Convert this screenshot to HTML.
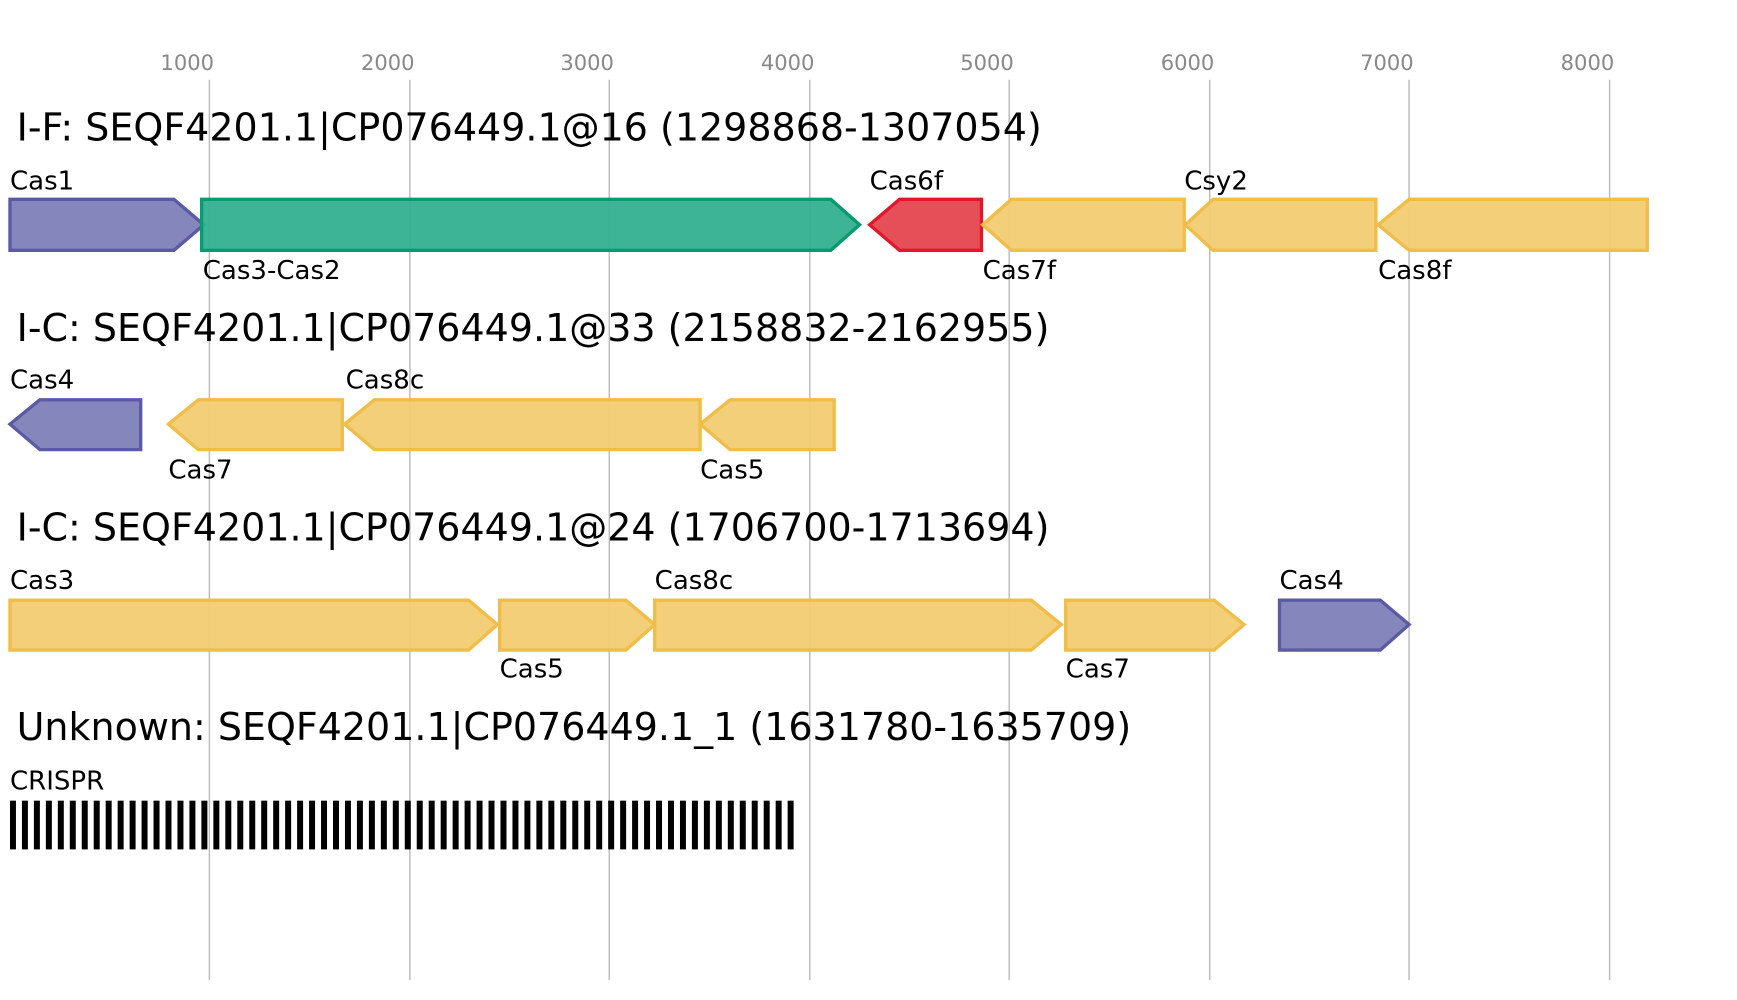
<!DOCTYPE html>
<html><head><meta charset="utf-8"><style>html,body{margin:0;padding:0;background:#fff}svg{display:block}</style></head>
<body>
<svg width="1737" height="1000" viewBox="0 0 1568 903" preserveAspectRatio="none" xmlns="http://www.w3.org/2000/svg" font-family="'DejaVu Sans','Liberation Sans',sans-serif">
<defs>
<pattern id="cr" x="9" y="0" width="10.8" height="10" patternUnits="userSpaceOnUse"><rect x="0" y="0" width="5.4" height="10" fill="#000"/></pattern>
</defs>
<g stroke="#bbb" stroke-width="1.3">
<line x1="189" y1="72" x2="189" y2="885"/><line x1="370" y1="72" x2="370" y2="885"/><line x1="550" y1="72" x2="550" y2="885"/><line x1="731" y1="72" x2="731" y2="885"/><line x1="911" y1="72" x2="911" y2="885"/><line x1="1092" y1="72" x2="1092" y2="885"/><line x1="1272" y1="72" x2="1272" y2="885"/><line x1="1453" y1="72" x2="1453" y2="885"/>
</g>
<g fill="#888" font-size="19" text-anchor="middle">
<text x="169" y="63">1000</text><text x="350" y="63">2000</text><text x="530" y="63">3000</text><text x="711" y="63">4000</text><text x="891" y="63">5000</text><text x="1072" y="63">6000</text><text x="1252" y="63">7000</text><text x="1433" y="63">8000</text>
</g>
<g font-size="34.3" fill="#000">
<text x="15" y="127">I-F: SEQF4201.1|CP076449.1@16 (1298868-1307054)</text>
<text x="15" y="308">I-C: SEQF4201.1|CP076449.1@33 (2158832-2162955)</text>
<text x="15" y="488">I-C: SEQF4201.1|CP076449.1@24 (1706700-1713694)</text>
<text x="15" y="668">Unknown: SEQF4201.1|CP076449.1_1 (1631780-1635709)</text>
</g>
<g stroke-width="3" fill-opacity="0.95">
<polygon points="9,180 157,180 184,203 157,226 9,226" fill="#7e7fb8" stroke="#5a5aa5"/>
<polygon points="182,180 750,180 776,203 750,226 182,226" fill="#33b08f" stroke="#0a9a72"/>
<polygon points="785,203 812,180 886,180 886,226 812,226" fill="#e5444f" stroke="#e0182a"/>
<polygon points="887,203 913,180 1069,180 1069,226 913,226" fill="#f2cc73" stroke="#efbd48"/>
<polygon points="1070,203 1095,180 1242,180 1242,226 1095,226" fill="#f2cc73" stroke="#efbd48"/>
<polygon points="1244,203 1272,180 1487,180 1487,226 1272,226" fill="#f2cc73" stroke="#efbd48"/>
<polygon points="9,383 36,361 127,361 127,406 36,406" fill="#7e7fb8" stroke="#5a5aa5"/>
<polygon points="152,383 179,361 309,361 309,406 179,406" fill="#f2cc73" stroke="#efbd48"/>
<polygon points="311,383 338,361 632,361 632,406 338,406" fill="#f2cc73" stroke="#efbd48"/>
<polygon points="632,383 659,361 753,361 753,406 659,406" fill="#f2cc73" stroke="#efbd48"/>
<polygon points="9,542 423,542 449,564 423,587 9,587" fill="#f2cc73" stroke="#efbd48"/>
<polygon points="451,542 565,542 591,564 565,587 451,587" fill="#f2cc73" stroke="#efbd48"/>
<polygon points="591,542 931,542 958,564 931,587 591,587" fill="#f2cc73" stroke="#efbd48"/>
<polygon points="962,542 1096,542 1123,564 1096,587 962,587" fill="#f2cc73" stroke="#efbd48"/>
<polygon points="1155,542 1246,542 1272,564 1246,587 1155,587" fill="#7e7fb8" stroke="#5a5aa5"/>
</g>
<rect x="9" y="723" width="711" height="44" fill="url(#cr)"/>
<g font-size="23.5" fill="#000">
<text x="9" y="171">Cas1</text><text x="183" y="252">Cas3-Cas2</text><text x="785" y="171">Cas6f</text><text x="887" y="252">Cas7f</text><text x="1069" y="171">Csy2</text><text x="1244" y="252">Cas8f</text>
<text x="9" y="351">Cas4</text><text x="152" y="432">Cas7</text><text x="312" y="351">Cas8c</text><text x="632" y="432">Cas5</text>
<text x="9" y="532">Cas3</text><text x="451" y="612">Cas5</text><text x="591" y="532">Cas8c</text><text x="962" y="612">Cas7</text><text x="1155" y="532">Cas4</text>
<text x="9" y="713">CRISPR</text>
</g>
</svg>
</body></html>
